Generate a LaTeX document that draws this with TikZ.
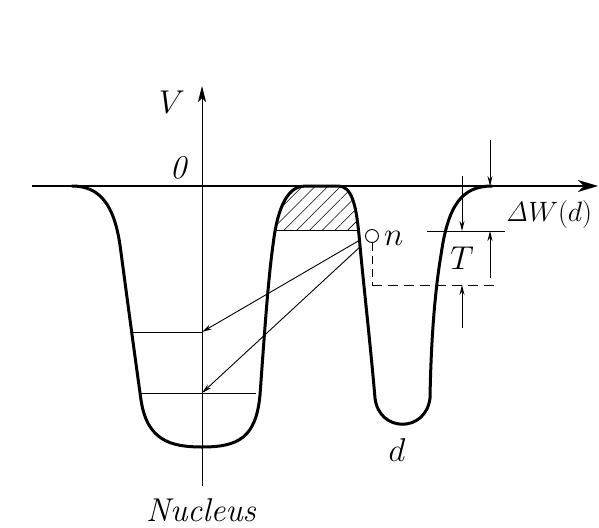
\RequirePackage{fix-cm}
\documentclass[tikz,border=0pt]{standalone}
\usetikzlibrary{arrows.meta,patterns.meta}
\begin{document}
\begin{tikzpicture}[x=1pt,y=-1pt,
  well/.style={line width=3pt, line join=round, line cap=round},
  axisline/.style={line width=1.4pt},
  thinline/.style={line width=0.9pt},
  bigtip/.style={-{Stealth[length=20pt,width=12pt,inset=6pt]}},
  smalltip/.style={-{Stealth[length=10pt,width=5pt]}},
  lbl/.style={inner sep=0pt, font=\fontsize{33}{36}\selectfont}]
\useasboundingbox (0,0) rectangle (599,527);

% named points
\coordinate (axL) at (32,186);
\coordinate (axR) at (598,186);
\coordinate (vB) at (202,486);
\coordinate (vT) at (202,86);
\coordinate (lev1L) at (133,332);
\coordinate (lev1R) at (202,332);
\coordinate (lev2L) at (141,393);
\coordinate (lev2M) at (202,393);
\coordinate (lev2R) at (256,393);

% hatched region of the barrier
\begin{scope}
  \clip (262,330) .. controls (266,300) and (268,280) .. (273,245)
        .. controls (278,202) and (290,186) .. (305,186) -- (338,186)
        .. controls (352,186) and (356,205) .. (359,235)
        .. controls (361,260) and (363,290) .. (365,330) -- cycle;
  \fill[pattern={Lines[angle=45,distance=9pt,line width=0.6pt]}] (250,180) rectangle (380,230);
  \draw[thinline] (250,230) -- (370,230);
\end{scope}

% axes
\draw[axisline, bigtip] (axL) -- (axR);
\draw[thinline, -{Stealth[length=16pt,width=8pt,inset=4pt]}] (vB) -- (vT);

% potential curve
\draw[well] (72,186)
  .. controls (100,186) and (114,205) .. (120,245)
  .. controls (126,290) and (134,350) .. (141,400)
  .. controls (147,440) and (170,447) .. (202,447)
  .. controls (238,447) and (256,438) .. (260,395)
  .. controls (264,340) and (268,280) .. (273,245)
  .. controls (278,202) and (290,186) .. (305,186) -- (338,186)
  .. controls (352,186) and (356,205) .. (359,235)
  .. controls (363,280) and (370,340) .. (375,398)
  .. controls (379,433) and (426,433) .. (430,398)
  .. controls (431,340) and (435,290) .. (441,255)
  .. controls (448,205) and (462,186) .. (492,186);

% energy levels
\draw[thinline] (lev1L) -- (lev1R);
\draw[thinline] (lev2L) -- (lev2R);

% neutron
\node[draw, circle, thinline, minimum size=13pt, inner sep=0pt] (n) at (372,236) {};
\node[lbl, anchor=west] (nl) at (384,238) {$n$};
\coordinate (s1) at (360,240);
\coordinate (s2) at (361,246);
\draw[thinline, smalltip] (s1) -- (lev1R);
\draw[thinline, smalltip] (s2) -- (lev2M);

% dashed levels
\coordinate (dashL) at (372,285);
\coordinate (dashR) at (500,285);
\draw[thinline, dash pattern=on 10pt off 6pt] (dashL) -- (dashR);
\draw[thinline, dash pattern=on 8pt off 5pt] (n.south) -- (dashL);
\coordinate (tL) at (427,231);
\coordinate (tR) at (505,231);
\draw[thinline] (tL) -- (tR);

% T dimension
\coordinate (tA) at (462,176);
\coordinate (tA2) at (462,231);
\coordinate (tB) at (462,328);
\coordinate (tB2) at (462,285);
\draw[thinline, smalltip] (tA) -- (tA2);
\draw[thinline, smalltip] (tB) -- (tB2);
\node[lbl] (T) at (462,258) {$T$};

% Delta W dimension
\coordinate (wA) at (490,140);
\coordinate (wA2) at (490,186);
\coordinate (wB) at (490,278);
\coordinate (wB2) at (490,231);
\draw[thinline, smalltip] (wA) -- (wA2);
\draw[thinline, smalltip] (wB) -- (wB2);
\node[lbl, font=\fontsize{28}{30}\selectfont] (dw) at (549,214) {$\mathit{\Delta} W(d)$};

% labels
\node[lbl] (V) at (172,102) {$V$};
\node[lbl] (zero) at (178,168) {\itshape 0};
\node[lbl] (d) at (397,450) {$d$};
\node[lbl] (nuc) at (201,510) {\itshape Nucleus};
\end{tikzpicture}
\end{document}
